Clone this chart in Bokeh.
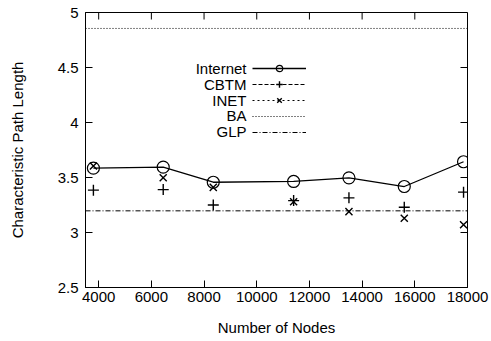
import numpy as np
from bokeh.plotting import figure
from bokeh.models import (Range1d, FixedTicker, Legend, LegendItem, Label,
                          ColumnDataSource)
from bokeh.embed import file_html
from bokeh.resources import INLINE

# ---- data ----
nodes = [3800, 6450, 8350, 11400, 13500, 15600, 17850]
internet = [3.585, 3.594, 3.457, 3.464, 3.497, 3.418, 3.643]
cbtm = [3.385, 3.39, 3.25, 3.29, 3.315, 3.23, 3.367]
inet = [3.605, 3.497, 3.41, 3.28, 3.19, 3.13, 3.07]
ba_value = 4.855
glp_value = 3.197
x_limits = [3500, 18000]
y_limits = [2.5, 5.0]
x_ticks = [4000, 6000, 8000, 10000, 12000, 14000, 16000, 18000]
y_ticks = [2.5, 3.0, 3.5, 4.0, 4.5, 5.0]
y_tick_labels = ["2.5", "3", "3.5", "4", "4.5", "5"]
series_names = ["Internet", "CBTM", "INET", "BA", "GLP"]
x_title = "Number of Nodes"
y_title = "Characteristic Path Length"

FONT = "Liberation Sans"
FS = "15px"
TICK = 7

p = figure(width=491, height=341, output_backend="svg", toolbar_location=None,
           x_range=Range1d(*x_limits), y_range=Range1d(*y_limits),
           min_border_left=85, min_border_right=24, min_border_top=12,
           min_border_bottom=54)
p.grid.visible = False
p.outline_line_color = "black"
p.outline_line_width = 1
p.background_fill_color = "white"
p.border_fill_color = "white"

# axes
p.xaxis.ticker = FixedTicker(ticks=x_ticks)
p.yaxis.ticker = FixedTicker(ticks=y_ticks)
p.yaxis.major_label_overrides = {t: l for t, l in zip(y_ticks, y_tick_labels)}
for ax in (p.xaxis[0], p.yaxis[0]):
    ax.major_tick_in = TICK
    ax.major_tick_out = 0
    ax.minor_tick_line_color = None
    ax.axis_line_color = "black"
    ax.major_tick_line_color = "black"
    ax.major_label_text_font = FONT
    ax.major_label_text_font_size = FS
    ax.major_label_text_color = "black"
    ax.axis_label_text_font = FONT
    ax.axis_label_text_font_size = FS
    ax.axis_label_text_font_style = "normal"
    ax.axis_label_text_color = "black"
p.xaxis.axis_label = x_title
p.yaxis.axis_label = y_title
p.xaxis.major_label_standoff = 4
p.xaxis.axis_label_standoff = 14
p.yaxis.major_label_standoff = 7
p.yaxis.axis_label_standoff = 29

# mirrored inward ticks on top and right borders
p.ray(x=x_ticks, y=[y_limits[1]] * len(x_ticks), length=TICK, length_units="screen",
      angle=-np.pi / 2, line_color="black", line_width=1)
p.ray(x=[x_limits[1]] * len(y_ticks), y=y_ticks, length=TICK, length_units="screen",
      angle=np.pi, line_color="black", line_width=1)

src = ColumnDataSource(dict(x=nodes, internet=internet, cbtm=cbtm, inet=inet))
nan_src = ColumnDataSource(dict(x=np.array([np.nan]), y=np.array([np.nan])))

# Internet
r_int_line = p.line("x", "internet", source=src, line_color="black", line_width=1.3)
r_int_pts = p.scatter("x", "internet", source=src, marker="circle", size=12,
                      fill_color=None, line_color="black", line_width=1.2)
# CBTM
r_cbtm_pts = p.scatter("x", "cbtm", source=src, marker="cross", size=11,
                       line_color="black", line_width=1.4)
r_cbtm_leg = p.line("x", "y", source=nan_src, line_color="black", line_width=1,
                    line_dash="4 2")
# INET
r_inet_pts = p.scatter("x", "inet", source=src, marker="x", size=10,
                       line_color="black", line_width=1.4)
r_inet_leg = p.line("x", "y", source=nan_src, line_color="black", line_width=1,
                    line_dash="2 3")
# BA
r_ba = p.line(x=x_limits, y=[ba_value, ba_value], line_color="black",
              line_width=1, line_dash="1 2")
# GLP
r_glp = p.line(x=x_limits, y=[glp_value, glp_value], line_color="black",
               line_width=1, line_dash="5 2 1 2")

# legend samples (glyphs only); the names are drawn to their left as labels
renderer_groups = [[r_int_line, r_int_pts], [r_cbtm_leg, r_cbtm_pts],
                   [r_inet_leg, r_inet_pts], [r_ba], [r_glp]]
items = [LegendItem(label="", renderers=rs) for rs in renderer_groups]
legend = Legend(items=items, location=(167, 147), glyph_width=54, glyph_height=16,
                label_width=0, label_standoff=0, label_height=16, spacing=0,
                padding=0, margin=0, border_line_color=None,
                background_fill_alpha=0, label_text_font=FONT,
                label_text_font_size=FS)
p.add_layout(legend)

for i, name in enumerate(series_names):
    p.add_layout(Label(x=161, y=219 - 15.8 * i, x_units="screen", y_units="screen",
                       text=name, text_align="right", text_baseline="middle",
                       text_font=FONT, text_font_size=FS, text_color="black"))

open("out.html", "w").write(file_html(p, INLINE))
